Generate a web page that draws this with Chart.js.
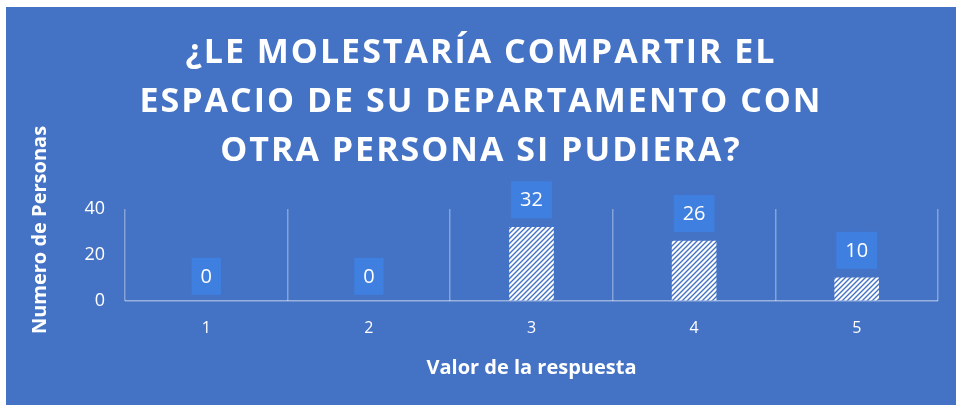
<!DOCTYPE html>
<html>
<head>
<meta charset="utf-8">
<script src="https://cdn.jsdelivr.net/npm/chart.js@4.4.1/dist/chart.umd.min.js"></script>
<style>
  html, body { margin: 0; padding: 0; background: #ffffff; }
  #wrap { position: absolute; left: 6px; top: 7px; width: 950px; height: 398px; background: #4472c4; }
</style>
</head>
<body>
<div id="wrap"><canvas id="chart"></canvas></div>
<script>
// Respuestas de la encuesta: valor 1..5 -> número de personas
const categories = ['1', '2', '3', '4', '5'];
const personas   = [0, 0, 32, 26, 10];
const yTicks     = [0, 20, 40];

const titleLines = ['¿LE MOLESTARÍA COMPARTIR EL', 'ESPACIO DE SU DEPARTAMENTO CON', 'OTRA PERSONA SI PUDIERA?'];
const yTitle = 'Numero de Personas';
const xTitle = 'Valor de la respuesta';

const WHITE = '#ffffff';
const LABEL_BG = '#3f7fe0';
const FONT = '"Open Sans", sans-serif';

/** Patrón rayado diagonal blanco/azul para las barras */
function hatchPattern() {
  const s = 5;
  const c = document.createElement('canvas');
  c.width = s; c.height = s;
  const g = c.getContext('2d');
  g.fillStyle = '#ffffff';
  g.fillRect(0, 0, s, s);
  g.strokeStyle = '#4472c4';
  g.lineWidth = 1.4;
  g.beginPath();
  g.moveTo(-1, s + 1); g.lineTo(s + 1, -1);
  g.moveTo(-1, 1); g.lineTo(1, -1);
  g.moveTo(s - 1, s + 1); g.lineTo(s + 1, s - 1);
  g.stroke();
  return g.createPattern(c, 'repeat');
}
const hatch = hatchPattern();

// etiquetas de datos con caja azul clara sobre cada barra
const valueBoxes = {
  id: 'valueBoxes',
  afterDatasetsDraw(chart) {
    const ctx = chart.ctx;
    const meta = chart.getDatasetMeta(0);
    ctx.save();
    ctx.font = '20px ' + FONT;
    ctx.textAlign = 'center';
    ctx.textBaseline = 'middle';
    meta.data.forEach((bar, i) => {
      const txt = String(personas[i]);
      const w = ctx.measureText(txt).width + 18;
      const h = 37;
      const bottom = bar.y - (personas[i] > 0 ? 9 : 6);
      ctx.fillStyle = LABEL_BG;
      ctx.fillRect(bar.x - w / 2, bottom - h, w, h);
      ctx.fillStyle = WHITE;
      ctx.fillText(txt, bar.x, bottom - h / 2 + 1);
    });
    ctx.restore();
  },
};

// título del eje Y dibujado a mano (en el original no está centrado en el área)
const yAxisTitle = {
  id: 'yAxisTitle',
  afterDraw(chart) {
    const ctx = chart.ctx;
    ctx.save();
    ctx.translate(34, 223);
    ctx.rotate(-Math.PI / 2);
    ctx.font = 'bold 20px ' + FONT;
    ctx.fillStyle = WHITE;
    ctx.textAlign = 'center';
    ctx.textBaseline = 'middle';
    ctx.fillText(yTitle, 0, 0);
    ctx.restore();
  },
};

// espaciado de letras solo para el bloque del título
const titleSpacing = {
  id: 'titleSpacing',
  afterLayout(chart) {
    const tb = chart.titleBlock;
    if (!tb || tb._spaced) return;
    const orig = tb.draw.bind(tb);
    tb.draw = function (area) {
      chart.ctx.save();
      chart.ctx.letterSpacing = '2px';
      orig(area);
      chart.ctx.restore();
    };
    tb._spaced = true;
  },
};

new Chart(document.getElementById('chart'), {
  type: 'bar',
  data: {
    labels: categories,
    datasets: [{
      data: personas,
      backgroundColor: ctx => (ctx.raw > 0 ? hatch : 'rgba(0,0,0,0)'),
      borderWidth: 0,
      barThickness: 44,
    }],
  },
  options: {
    responsive: true,
    maintainAspectRatio: false,
    animation: false,
    layout: { padding: { left: 18, right: 18, top: 22, bottom: 25 } },
    plugins: {
      legend: { display: false },
      tooltip: { enabled: false },
      title: {
        display: true,
        text: titleLines,
        color: WHITE,
        font: { family: FONT, size: 34, weight: 'bold', lineHeight: 1.44 },
        padding: { top: 0, bottom: 33 },
      },
    },
    scales: {
      x: {
        grid: { display: true, offset: true, color: 'rgba(255,255,255,0.35)', lineWidth: 1.5, drawTicks: false },
        border: { display: false },
        ticks: { color: WHITE, font: { family: FONT, size: 16 }, padding: 18 },
        title: {
          display: true,
          text: xTitle,
          color: WHITE,
          font: { family: FONT, size: 20, weight: 'bold' },
          padding: { top: 0, bottom: 0 },
        },
      },
      y: {
        min: 0,
        max: 40,
        afterBuildTicks(axis) { axis.ticks = yTicks.map(v => ({ value: v })); },
        afterFit(axis) { axis.width = 101; },
        grid: {
          drawTicks: false,
          color: ctx => ctx.tick.value === 0 ? 'rgba(255,255,255,0.45)' : 'rgba(0,0,0,0)',
          lineWidth: 1.5,
        },
        border: { display: false },
        ticks: { color: WHITE, font: { family: FONT, size: 18 }, padding: 20 },
      },
    },
  },
  plugins: [valueBoxes, yAxisTitle, titleSpacing],
});
</script>
</body>
</html>
